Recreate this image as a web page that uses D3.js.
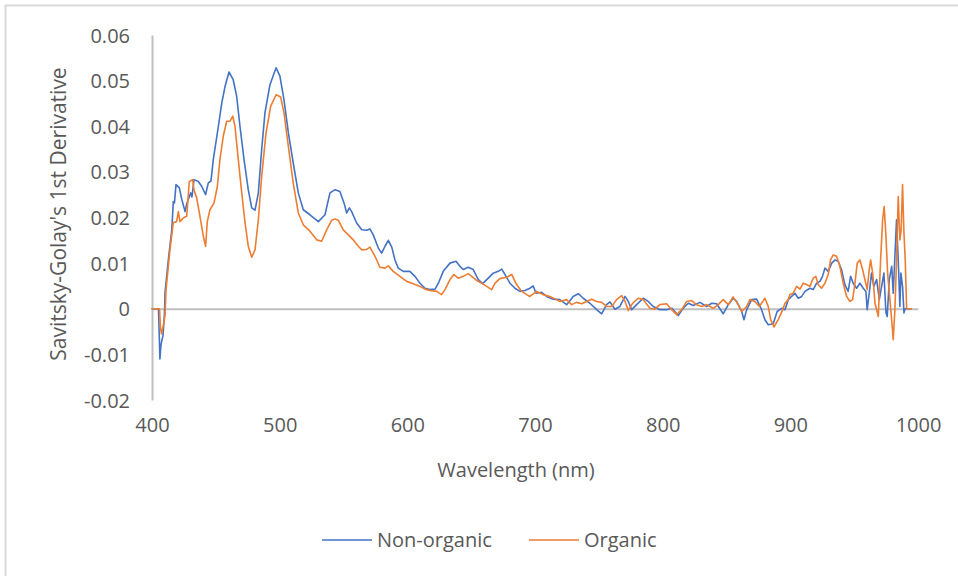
<!DOCTYPE html>
<html>
<head>
<meta charset="utf-8">
<script src="https://cdn.jsdelivr.net/npm/d3@7"></script>
<style>
  html, body { margin: 0; padding: 0; background: #ffffff; }
  svg { display: block; }
  text { font-family: "Open Sans", "DejaVu Sans", sans-serif; fill: #595959; }
</style>
</head>
<body>
<svg id="chart" width="958" height="576"></svg>
<script>
// Savitsky-Golay 1st derivative spectra, 400–995 nm
const nonOrganicWl = [400.0,405.1,406.2,407.0,407.8,408.6,409.8,410.2,412.0,413.3,415.5,416.7,417.6,418.8,421.4,423.3,425.9,427.2,430.3,431.3,432.9,436.3,439.0,442.0,444.1,446.2,448.0,452.0,454.6,457.2,460.3,463.6,466.3,468.9,472.1,475.4,478.1,480.7,483.3,485.9,488.5,492.4,497.2,500.2,503.4,506.8,510.6,514.6,518.5,523.7,530.3,535.5,539.4,543.4,547.2,550.4,552.5,554.6,556.4,560.3,564.3,568.1,570.7,573.3,577.3,579.9,582.5,585.1,587.8,590.3,592.9,596.8,602.0,606.0,609.9,613.8,617.7,621.7,624.3,628.1,633.4,638.1,641.2,643.8,647.7,651.6,655.6,659.0,663.4,667.3,671.2,673.9,676.5,680.4,684.3,688.2,692.2,696.0,698.6,700.8,705.2,709.1,714.3,719.5,724.8,729.9,733.9,737.8,743.0,748.3,752.2,756.1,758.7,762.6,766.5,770.5,773.1,775.7,779.6,784.8,788.7,792.6,797.8,803.1,807.3,812.2,816.1,820.1,823.9,829.2,834.4,838.4,842.3,847.4,851.4,855.2,857.9,861.9,863.7,865.8,869.7,873.6,877.5,880.1,882.7,886.6,889.7,893.2,895.8,898.4,901.0,903.6,906.2,908.9,911.5,915.3,917.9,920.6,923.2,925.2,927.1,929.7,932.4,935.0,937.5,940.1,942.7,945.3,947.2,949.2,951.9,954.5,957.1,959.2,960.2,961.8,963.6,965.4,967.6,969.7,971.5,973.3,974.9,975.9,977.5,979.4,980.6,981.9,983.2,984.8,985.8,986.6,987.9,989.0,989.8,994.8];
const nonOrganicVal = [0,0,-0.011,-0.008,-0.0068,-0.006,-0.0009,0.0035,0.0086,0.012,0.0173,0.0235,0.0232,0.0272,0.0265,0.024,0.0213,0.023,0.0254,0.0245,0.0283,0.0279,0.0268,0.025,0.0276,0.028,0.0327,0.040,0.045,0.0487,0.0519,0.0502,0.0466,0.040,0.0327,0.0261,0.0221,0.0216,0.0254,0.0349,0.043,0.0491,0.0528,0.051,0.0458,0.0386,0.032,0.0254,0.0217,0.0206,0.0191,0.0206,0.0254,0.0261,0.0257,0.0232,0.021,0.0221,0.0213,0.0188,0.0173,0.0172,0.0175,0.0162,0.0133,0.0122,0.0137,0.015,0.0135,0.0107,0.0089,0.0082,0.0082,0.0071,0.0056,0.0045,0.0042,0.0043,0.0056,0.0082,0.01,0.0104,0.0093,0.0086,0.0091,0.0086,0.0064,0.0055,0.0067,0.0078,0.0082,0.0087,0.0075,0.0056,0.0045,0.0038,0.004,0.0045,0.005,0.0034,0.0036,0.0027,0.0021,0.002,0.0009,0.0027,0.0033,0.0023,0.0012,-0.0002,-0.0011,0.0009,0.0015,-0.0001,0.0005,0.0027,0.0016,-0.0002,0.0009,0.0023,0.0016,0.0005,-0.0002,-0.0002,0.0001,-0.0015,0.0001,0.0012,0.0007,0.0014,0.0005,0.0012,0.0011,-0.0011,0.0009,0.0023,0.0016,-0.0006,-0.0024,-0.0002,0.002,0.0021,-0.0002,-0.0024,-0.0035,-0.0033,-0.0006,0.0001,-0.0002,0.002,0.0027,0.0034,0.0023,0.0027,0.0038,0.0045,0.0042,0.0056,0.006,0.0071,0.0089,0.0082,0.01,0.0107,0.0104,0.0086,0.0053,0.0038,0.0071,0.0056,0.0045,0.0056,0.0045,0.0038,-0.0002,0.0034,0.0078,0.0049,0.0064,0.002,0.0049,0.0078,-0.0009,-0.0017,0.0064,0.0093,0.0034,0.0115,0.0195,0.0086,0.0005,0.0078,0.0049,-0.0009,0,0];

const organicWl = [400.0,405.9,406.6,407.4,408.6,409.4,410.2,411.0,414.1,416.7,419.3,420.6,421.9,424.5,427.2,429.2,431.9,432.9,435.0,437.6,440.2,442.0,443.3,445.4,448.6,451.2,453.2,455.8,458.5,461.1,463.3,465.0,467.6,470.3,472.9,475.4,478.1,480.7,483.3,485.9,489.3,493.0,497.2,500.8,503.4,506.8,510.6,514.6,518.5,523.7,529.0,532.9,536.8,540.8,543.4,545.9,549.8,553.8,557.6,561.6,564.3,568.1,570.7,574.7,578.5,582.5,585.1,589.0,594.2,599.5,604.6,609.9,613.8,617.7,623.0,626.9,629.5,633.4,636.5,639.9,643.8,647.7,650.4,654.3,658.3,662.1,666.1,668.7,672.5,677.8,681.8,685.6,689.6,693.5,696.0,701.3,706.4,711.7,716.9,719.5,724.8,728.7,732.6,736.6,740.4,744.4,748.3,752.2,756.1,760.1,763.9,767.9,770.5,773.1,776.4,780.9,784.8,790.0,794.0,797.8,803.1,807.1,810.9,814.9,818.8,822.7,826.6,830.6,834.4,839.6,843.5,847.4,851.4,855.2,859.2,861.9,865.8,868.3,872.3,875.7,880.1,882.7,884.6,887.2,890.5,893.9,895.8,898.4,899.7,902.2,904.9,907.5,910.1,912.7,915.3,917.9,920.0,921.8,924.4,927.1,929.7,931.5,933.6,936.2,938.8,941.4,944.1,946.7,948.8,950.6,952.4,954.5,956.6,958.4,960.2,961.8,962.9,964.5,966.3,968.9,970.7,972.3,973.5,974.9,976.2,978.0,979.8,980.6,981.9,983.2,984.5,985.8,986.8,987.9,989.0,990.0,991.1,994.8];
const organicVal = [0,0,-0.004,-0.0055,-0.004,-0.0028,-0.0015,0.0042,0.013,0.0189,0.0191,0.0213,0.0191,0.0199,0.0203,0.0279,0.0283,0.026,0.0243,0.0202,0.0159,0.0137,0.0191,0.0217,0.0232,0.0268,0.0327,0.0378,0.0411,0.0411,0.0422,0.040,0.0327,0.0254,0.0188,0.0137,0.0113,0.0129,0.0195,0.029,0.0385,0.0444,0.0469,0.0464,0.0429,0.0356,0.0276,0.021,0.0184,0.017,0.0151,0.0148,0.0173,0.0194,0.0197,0.0194,0.0173,0.0162,0.0151,0.0137,0.0129,0.013,0.0135,0.0115,0.0091,0.0089,0.0094,0.0082,0.0071,0.006,0.0055,0.0049,0.0043,0.004,0.0038,0.0031,0.0042,0.0064,0.0075,0.0067,0.0071,0.0077,0.0071,0.0062,0.0056,0.0049,0.0042,0.0056,0.0066,0.0069,0.0075,0.0053,0.0038,0.0031,0.0027,0.0038,0.0031,0.0027,0.002,0.0016,0.002,0.0009,0.0014,0.0011,0.0016,0.0021,0.0016,0.0014,0.0005,0.0005,0.002,0.0029,0.0016,-0.0004,0.0012,0.0023,0.002,0.0001,-0.0001,0.0009,0.0011,-0.0002,-0.0013,-0.0002,0.0016,0.0018,0.0009,0.0005,0.0009,0.0001,0.0009,0.002,0.0009,0.0026,0.0009,-0.0006,0.0005,0.002,0.0016,0.0005,0.0023,0.0005,-0.0024,-0.004,-0.0024,-0.0003,0.0012,0.002,0.0031,0.0034,0.0049,0.0043,0.0056,0.0053,0.0049,0.0067,0.0071,0.0053,0.0045,0.0056,0.0075,0.0107,0.0118,0.0115,0.0093,0.0056,0.0027,0.0016,0.002,0.0056,0.01,0.0107,0.0086,0.0064,0.0042,0.0086,0.0107,0.0078,0.0012,-0.0017,0.0107,0.0195,0.0224,0.0159,0.0078,0.002,-0.0039,-0.0068,-0.0002,0.0107,0.0246,0.0151,0.0173,0.0272,0.0166,0.0107,0,0];

const seriesNames = ["Non-organic", "Organic"];
const seriesColors = ["#4472C4", "#ED7D31"];

const xTicks = [400, 500, 600, 700, 800, 900, 1000];
const xTickLabels = ["400", "500", "600", "700", "800", "900", "1000"];
const yTicks = [-0.02, -0.01, 0, 0.01, 0.02, 0.03, 0.04, 0.05, 0.06];
const yTickLabels = ["-0.02", "-0.01", "0", "0.01", "0.02", "0.03", "0.04", "0.05", "0.06"];

const xTitle = "Wavelength (nm)";
const yTitle = "Savitsky-Golay's 1st Derivative";

const svg = d3.select("#chart");

// chart frame
svg.append("rect")
  .attr("x", 5.5).attr("y", 5.5)
  .attr("width", 1000).attr("height", 1000)
  .attr("fill", "#ffffff")
  .attr("stroke", "#d9d9d9")
  .attr("stroke-width", 2);

const x = d3.scaleLinear().domain([400, 1000]).range([152, 918]);
const y = d3.scaleLinear().domain([-0.02, 0.06]).range([400, 35]);

// vertical axis line at x = 400
const yAxis = d3.axisLeft(y).tickValues(yTicks).tickSize(0)
  .tickFormat((d, i) => yTickLabels[i]);
const gy = svg.append("g").attr("transform", `translate(${x(400)},0)`).call(yAxis);
gy.select(".domain").attr("stroke", "#bfbfbf").attr("stroke-width", 2);
gy.selectAll(".tick text")
  .attr("x", -22)
  .attr("dy", "0.35em")
  .style("font-size", "20px")
  .style("font-family", "'Open Sans', sans-serif")
  .attr("fill", "#595959");

// horizontal axis line crosses at zero, labels sit at the bottom
const xAxisLine = d3.axisBottom(x).tickValues([]).tickSize(0).tickSizeOuter(0);
const gx = svg.append("g").attr("transform", `translate(0,${y(0)})`).call(xAxisLine);
gx.select(".domain").attr("stroke", "#bfbfbf").attr("stroke-width", 2);

const xLabelsAxis = d3.axisBottom(x).tickValues(xTicks).tickSize(0)
  .tickFormat((d, i) => xTickLabels[i]);
const gxl = svg.append("g").attr("transform", `translate(0,${y(-0.02)})`).call(xLabelsAxis);
gxl.select(".domain").remove();
gxl.selectAll(".tick text")
  .attr("y", 32)
  .attr("dy", "0")
  .style("font-size", "20px")
  .style("font-family", "'Open Sans', sans-serif")
  .attr("fill", "#595959");

// series lines
const line = d3.line().x(d => x(d[0])).y(d => y(d[1]));
const series = [
  d3.zip(nonOrganicWl, nonOrganicVal),
  d3.zip(organicWl, organicVal)
];
series.forEach((pts, i) => {
  svg.append("path")
    .datum(pts)
    .attr("d", line)
    .attr("fill", "none")
    .attr("stroke", seriesColors[i])
    .attr("stroke-width", 1.6)
    .attr("stroke-linejoin", "round")
    .attr("stroke-linecap", "round");
});

// axis titles
svg.append("text")
  .attr("x", 516).attr("y", 477)
  .attr("text-anchor", "middle")
  .style("font-size", "20px")
  .text(xTitle);

svg.append("text")
  .attr("transform", "translate(66,214) rotate(-90)")
  .attr("text-anchor", "middle")
  .style("font-size", "21px")
  .text(yTitle);

// legend
const legendX = [322, 529];
seriesNames.forEach((name, i) => {
  const g = svg.append("g").attr("transform", `translate(${legendX[i]},540)`);
  g.append("line")
    .attr("x1", 0).attr("x2", 50).attr("y1", 0).attr("y2", 0)
    .attr("stroke", seriesColors[i]).attr("stroke-width", 1.6);
  g.append("text")
    .attr("x", 55).attr("y", 0).attr("dy", "0.35em")
    .style("font-size", "20px")
    .text(name);
});
</script>
</body>
</html>
